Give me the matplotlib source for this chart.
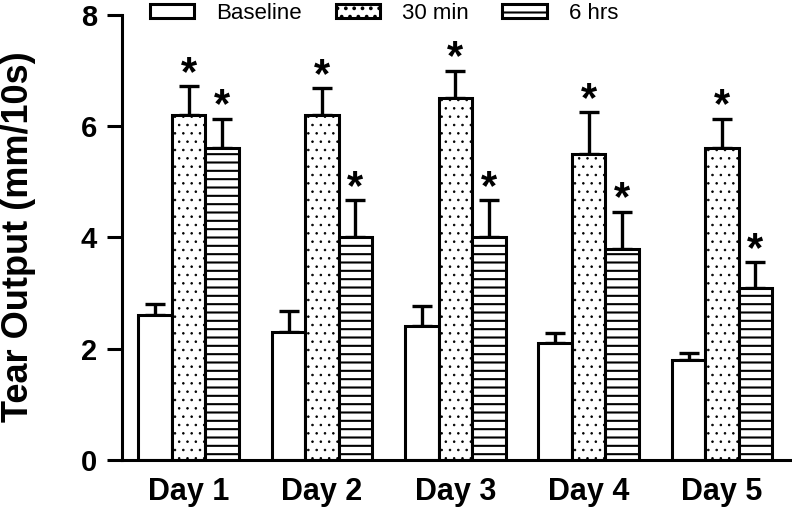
import numpy as np
import matplotlib
matplotlib.use("Agg")
import matplotlib.pyplot as plt

# tear output per day, three time points
days = ["Day 1", "Day 2", "Day 3", "Day 4", "Day 5"]
series = ["Baseline", "30 min", "6 hrs"]
baseline = [2.6, 2.3, 2.4, 2.1, 1.8]
baseline_err = [0.21, 0.37, 0.37, 0.19, 0.13]
min30 = [6.2, 6.2, 6.5, 5.5, 5.6]
min30_err = [0.52, 0.48, 0.5, 0.75, 0.53]
hrs6 = [5.6, 4.0, 4.0, 3.8, 3.1]
hrs6_err = [0.53, 0.67, 0.67, 0.66, 0.45]
# which bars get a star (30 min and 6 hrs all significant)
stars30 = [True, True, True, True, True]
stars6 = [True, True, True, True, True]

plt.rcParams['font.family'] = ['Liberation Sans', 'DejaVu Sans']
plt.rcParams['hatch.linewidth'] = 1.5
plt.rcParams['hatch.color'] = 'black'

fig = plt.figure(figsize=(7.92, 5.11), dpi=100)
ax = fig.add_axes([0.154, 0.0998, 0.846, 0.871])

x = np.arange(len(days))
w = 0.251
lw = 2.2
vals = [baseline, min30, hrs6]
errs = [baseline_err, min30_err, hrs6_err]
hatches = [None, '..', '--']
hatch_lw = [1.5, 0.6, 1.5]

for i in range(3):
    pos = x + (i - 1) * w
    with plt.rc_context({'hatch.linewidth': hatch_lw[i]}):
        bars = ax.bar(pos, vals[i], w, color='white', edgecolor='black', linewidth=lw,
                      hatch=hatches[i], label=series[i], zorder=2)
    for b in bars:
        if hasattr(b, 'set_hatch_linewidth'):
            b.set_hatch_linewidth(hatch_lw[i])
    ax.errorbar(pos, vals[i], yerr=[np.zeros(len(days)), errs[i]], fmt='none',
                ecolor='black', elinewidth=2.4, capsize=7, capthick=2.4, zorder=1)

#stars above the error caps
for j in range(len(days)):
    if stars30[j]:
        ax.annotate('*', (x[j], min30[j] + min30_err[j]), xytext=(0, 9),
                    textcoords='offset points', ha='center', va='center',
                    fontsize=30, fontweight='bold')
    if stars6[j]:
        ax.annotate('*', (x[j] + w, hrs6[j] + hrs6_err[j]), xytext=(0, 9),
                    textcoords='offset points', ha='center', va='center',
                    fontsize=30, fontweight='bold')

ax.set_xlim(-0.5, 4.525)
ax.set_ylim(0, 8)
ax.set_yticks([0, 2, 4, 6, 8])
ax.set_xticks(x)
ax.set_xticklabels(days)

for s in ['top', 'right']:
    ax.spines[s].set_visible(False)
for s in ['left', 'bottom']:
    ax.spines[s].set_linewidth(2.2)

ax.tick_params(axis='y', direction='out', length=11, width=2.2, pad=7, labelsize=21)
ax.tick_params(axis='x', length=0, pad=12, labelsize=22)
for lab in ax.get_xticklabels() + ax.get_yticklabels():
    lab.set_fontweight('bold')

ax.set_ylabel('Tear Output (mm/10s)', fontsize=26, fontweight='bold')
ax.yaxis.set_label_coords(-0.128, 0.501)

leg = fig.legend(loc='center', bbox_to_anchor=(0.485, 0.974), ncol=3, frameon=False,
                 fontsize=16, handlelength=2.0, handleheight=0.6, handletextpad=1.0,
                 columnspacing=1.5, borderaxespad=0)

fig.savefig('out.png', dpi=100)
